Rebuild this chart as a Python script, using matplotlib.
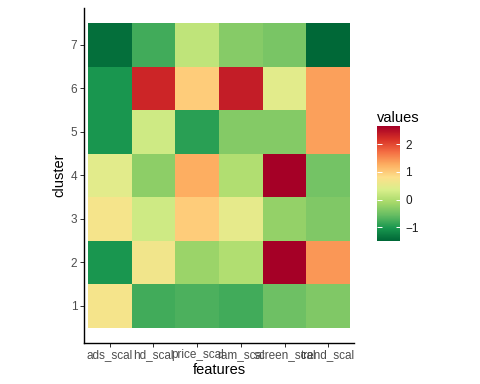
import numpy as np
import matplotlib
matplotlib.use('Agg')
import matplotlib.pyplot as plt
from matplotlib.colors import LinearSegmentedColormap

plt.rcParams['font.family'] = ['Liberation Sans', 'DejaVu Sans']

features = ['ads_scal', 'hd_scal', 'price_scal', 'ram_scal', 'screen_scal', 'trend_scal']
clusters = [1, 2, 3, 4, 5, 6, 7]

# one list per cluster, values in feature order
cl1 = [0.70, -0.80, -0.73, -0.80, -0.51, -0.39]
cl2 = [-1.06, 0.66, -0.20, -0.02, 2.66, 1.43]
cl3 = [0.70, 0.24, 0.99, 0.50, -0.24, -0.39]
cl4 = [0.46, -0.29, 1.27, -0.02, 2.66, -0.47]
cl5 = [-1.06, 0.24, -0.94, -0.35, -0.35, 1.37]
cl6 = [-1.06, 2.29, 0.99, 2.37, 0.46, 1.37]
cl7 = [-1.42, -0.80, 0.12, -0.34, -0.43, -1.50]

values = np.array([cl1, cl2, cl3, cl4, cl5, cl6, cl7])
vmin, vmax = -1.5, 2.66

# RdYlGn, 10 classes, reversed (green = low)
pal = ['#006837', '#1a9850', '#66bd63', '#a6d96a', '#d9ef8b',
       '#fee08b', '#fdae61', '#f46d43', '#d73027', '#a50026']
cmap = LinearSegmentedColormap.from_list('rdylgn10', pal)

fig = plt.figure(figsize=(480 / 72, 384 / 72), dpi=72)
ax = fig.add_axes([83.6 / 480, 41 / 384, 270.8 / 480, 335.2 / 384])

xe = np.arange(len(features) + 1) + 0.5
ye = np.arange(len(clusters) + 1) + 0.5
ax.pcolormesh(xe, ye, values, cmap=cmap, vmin=vmin, vmax=vmax, edgecolors='none')

ax.set_xlim(0.4, len(features) + 0.6)
ax.set_ylim(0.15, len(clusters) + 0.85)
ax.set_xticks(range(1, len(features) + 1))
ax.set_xticklabels(features)
ax.set_yticks(clusters)
ax.set_yticklabels([str(c) for c in clusters])
ax.tick_params(length=3.7, width=1.0, color='#333333', labelcolor='#4d4d4d',
               labelsize=11.7, pad=2.5)
for s in ['top', 'right']:
    ax.spines[s].set_visible(False)
for s in ['left', 'bottom']:
    ax.spines[s].set_linewidth(1.4)
    ax.spines[s].set_color('black')
ax.set_xlabel('features', fontsize=14.6, labelpad=2)
ax.set_ylabel('cluster', fontsize=14.6, labelpad=4)

# legend colour bar
cax = fig.add_axes([377.3 / 480, 143 / 384, 23 / 480, 115 / 384])
grad = np.linspace(vmin, vmax, 300).reshape(-1, 1)
cax.imshow(grad, aspect='auto', origin='lower', cmap=cmap, vmin=vmin, vmax=vmax,
           extent=[0, 1, vmin, vmax])
cax.set_xlim(0, 1)
cax.set_ylim(vmin, vmax)
for t in [-1, 0, 1, 2]:
    cax.hlines(t, 0, 0.2, color='white', lw=1.0)
    cax.hlines(t, 0.8, 1, color='white', lw=1.0)
cax.set_xticks([])
cax.set_yticks([-1, 0, 1, 2])
cax.yaxis.tick_right()
cax.tick_params(axis='y', length=0, labelsize=11.7, labelcolor='#1a1a1a', pad=5)
for s in cax.spines.values():
    s.set_visible(False)
cax.set_title('values', fontsize=14.6, loc='left', pad=4)

fig.savefig('out.png', dpi=72)
